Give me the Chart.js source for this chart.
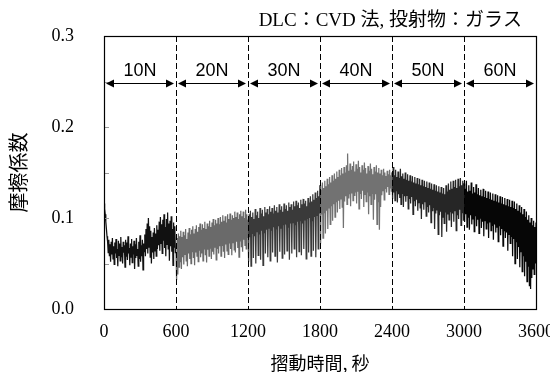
<!DOCTYPE html>
<html>
<head>
<meta charset="utf-8">
<script src="https://cdn.jsdelivr.net/npm/chart.js@4"></script>
<style>
  html, body { margin: 0; padding: 0; background: #fff; }
  #wrap { width: 550px; height: 372px; }
</style>
</head>
<body>
<div id="wrap"><canvas id="chart" width="550" height="372"></canvas></div>
<script>
// load steps (sliding time, s) and their labels
const loadSteps = [0, 600, 1200, 1800, 2400, 3000, 3600];
const loadLabels = ['10N', '20N', '30N', '40N', '50N', '60N'];
const sampleStep = 5; // seconds between samples

// friction coefficient, every 5 s
const mu10N = [0.116, 0.110, 0.104, 0.096, 0.088, 0.080, 0.074,
  0.062, 0.076, 0.058, 0.071, 0.052, 0.074, 0.060, 0.078, 0.055, 0.069,
  0.049, 0.073, 0.061, 0.077, 0.056, 0.066, 0.047, 0.075, 0.059, 0.072,
  0.053, 0.079, 0.057, 0.068, 0.050, 0.074, 0.062, 0.070, 0.046, 0.076,
  0.058, 0.073, 0.054, 0.080, 0.061, 0.067, 0.048, 0.072, 0.057, 0.077,
  0.051, 0.069, 0.060, 0.075, 0.044, 0.071, 0.056, 0.078, 0.059, 0.066,
  0.047, 0.074, 0.055, 0.081, 0.052, 0.070, 0.058, 0.076, 0.043, 0.072,
  0.063, 0.082, 0.058, 0.088, 0.066, 0.094, 0.061, 0.100, 0.068, 0.091,
  0.057, 0.086, 0.050, 0.079, 0.062, 0.084, 0.055, 0.089, 0.064, 0.083,
  0.058, 0.092, 0.066, 0.087,
  0.070, 0.096, 0.064, 0.101, 0.072, 0.093, 0.061, 0.098, 0.075, 0.104,
  0.067, 0.090, 0.058, 0.099, 0.071, 0.106, 0.066, 0.094, 0.053, 0.097,
  0.069, 0.102, 0.063, 0.088, 0.048, 0.095, 0.068, 0.091, 0.062];
const mu20N = [0.062, 0.032, 0.078, 0.038, 0.083, 0.046, 0.080, 0.052, 0.086, 0.044,
  0.079, 0.057, 0.085, 0.049, 0.081, 0.060, 0.088, 0.053, 0.077, 0.047,
  0.084, 0.061, 0.089, 0.055, 0.082, 0.050, 0.087, 0.063, 0.091, 0.056,
  0.083, 0.048, 0.088, 0.062, 0.092, 0.058, 0.085, 0.052, 0.090, 0.064,
  0.094, 0.057, 0.087, 0.061, 0.093, 0.053, 0.089, 0.066, 0.096, 0.059,
  0.088, 0.051, 0.094, 0.065, 0.091, 0.058, 0.097, 0.067, 0.090, 0.055,
  0.095, 0.063, 0.099, 0.060, 0.092, 0.068, 0.098, 0.054, 0.094, 0.066,
  0.100, 0.061, 0.093, 0.069, 0.101, 0.058, 0.096, 0.070, 0.103, 0.063,
  0.097, 0.056, 0.102, 0.071, 0.095, 0.064, 0.104, 0.060, 0.099, 0.072,
  0.105, 0.066, 0.098, 0.059, 0.103, 0.073, 0.100, 0.065, 0.107, 0.062,
  0.101, 0.074, 0.106, 0.067, 0.099, 0.057, 0.104, 0.075, 0.108, 0.068,
  0.102, 0.063, 0.107, 0.076, 0.100, 0.070, 0.109, 0.066, 0.104, 0.078];
const mu30N = [0.098, 0.052, 0.104, 0.079, 0.108, 0.047, 0.101, 0.083, 0.106, 0.056,
  0.099, 0.080, 0.110, 0.050, 0.103, 0.085, 0.107, 0.059, 0.100, 0.082,
  0.111, 0.054, 0.105, 0.086, 0.109, 0.048, 0.102, 0.084, 0.112, 0.061,
  0.106, 0.087, 0.110, 0.057, 0.104, 0.089, 0.113, 0.053, 0.107, 0.086,
  0.111, 0.062, 0.105, 0.090, 0.114, 0.058, 0.108, 0.088, 0.112, 0.051,
  0.106, 0.091, 0.115, 0.063, 0.109, 0.089, 0.113, 0.056, 0.107, 0.092,
  0.116, 0.060, 0.110, 0.093, 0.114, 0.064, 0.108, 0.090, 0.117, 0.054,
  0.112, 0.094, 0.115, 0.061, 0.109, 0.095, 0.118, 0.066, 0.113, 0.092,
  0.119, 0.057, 0.114, 0.096, 0.117, 0.063, 0.111, 0.097, 0.120, 0.059,
  0.115, 0.094, 0.121, 0.066, 0.116, 0.098, 0.119, 0.055, 0.113, 0.099,
  0.122, 0.062, 0.117, 0.100, 0.124, 0.058, 0.118, 0.097, 0.126, 0.064,
  0.120, 0.101, 0.128, 0.057, 0.122, 0.103, 0.130, 0.066, 0.124, 0.105];
const mu40N = [0.136, 0.072, 0.131, 0.104, 0.139, 0.078, 0.133, 0.106, 0.141, 0.083,
  0.135, 0.108, 0.143, 0.088, 0.137, 0.111, 0.145, 0.093, 0.139, 0.113,
  0.147, 0.097, 0.141, 0.115, 0.149, 0.101, 0.143, 0.118, 0.151, 0.106,
  0.145, 0.119, 0.153, 0.110, 0.147, 0.121, 0.155, 0.112, 0.149, 0.089,
  0.156, 0.118, 0.150, 0.124, 0.158, 0.115, 0.171, 0.122, 0.152, 0.126,
  0.160, 0.113, 0.153, 0.127, 0.157, 0.119, 0.162, 0.125, 0.151, 0.128,
  0.159, 0.116, 0.154, 0.129, 0.163, 0.110, 0.156, 0.127, 0.150, 0.121,
  0.158, 0.130, 0.153, 0.112, 0.161, 0.126, 0.155, 0.118, 0.149, 0.128,
  0.157, 0.104, 0.152, 0.124, 0.160, 0.115, 0.154, 0.127, 0.148, 0.098,
  0.156, 0.120, 0.151, 0.126, 0.158, 0.093, 0.150, 0.118, 0.155, 0.087,
  0.149, 0.112, 0.153, 0.125, 0.147, 0.130, 0.154, 0.120, 0.150, 0.132,
  0.146, 0.128, 0.152, 0.134, 0.148, 0.126, 0.153, 0.133, 0.147, 0.129];
const mu50N = [0.150, 0.121, 0.156, 0.128, 0.147, 0.119, 0.153, 0.130, 0.145, 0.117,
  0.151, 0.126, 0.144, 0.122, 0.154, 0.115, 0.146, 0.127, 0.149, 0.112,
  0.143, 0.124, 0.150, 0.118, 0.142, 0.125, 0.148, 0.110, 0.141, 0.121,
  0.147, 0.116, 0.140, 0.123, 0.146, 0.104, 0.139, 0.119, 0.145, 0.113,
  0.138, 0.120, 0.144, 0.108, 0.137, 0.117, 0.143, 0.111, 0.136, 0.099,
  0.142, 0.115, 0.135, 0.109, 0.141, 0.118, 0.134, 0.102, 0.140, 0.112,
  0.133, 0.106, 0.139, 0.114, 0.132, 0.095, 0.138, 0.108, 0.131, 0.111,
  0.137, 0.088, 0.130, 0.105, 0.136, 0.109, 0.129, 0.082, 0.135, 0.103,
  0.128, 0.107, 0.134, 0.079, 0.127, 0.101, 0.133, 0.094, 0.126, 0.106,
  0.136, 0.085, 0.129, 0.104, 0.138, 0.098, 0.131, 0.107, 0.140, 0.090,
  0.132, 0.105, 0.141, 0.096, 0.134, 0.108, 0.142, 0.086, 0.133, 0.103,
  0.143, 0.099, 0.135, 0.109, 0.144, 0.092, 0.136, 0.106, 0.141, 0.097];
const mu60N = [0.138, 0.096, 0.132, 0.104, 0.141, 0.090, 0.129, 0.101, 0.136, 0.087,
  0.130, 0.103, 0.139, 0.093, 0.127, 0.099, 0.134, 0.085, 0.128, 0.102,
  0.137, 0.091, 0.126, 0.098, 0.133, 0.083, 0.125, 0.100, 0.131, 0.089,
  0.124, 0.096, 0.132, 0.080, 0.123, 0.097, 0.130, 0.088, 0.122, 0.094,
  0.129, 0.078, 0.121, 0.095, 0.128, 0.086, 0.120, 0.092, 0.127, 0.076,
  0.119, 0.093, 0.126, 0.084, 0.118, 0.090, 0.125, 0.074, 0.117, 0.091,
  0.124, 0.081, 0.116, 0.088, 0.123, 0.069, 0.115, 0.086, 0.122, 0.078,
  0.114, 0.084, 0.121, 0.064, 0.113, 0.082, 0.120, 0.072, 0.112, 0.079,
  0.119, 0.058, 0.111, 0.077, 0.118, 0.050, 0.110, 0.074, 0.116, 0.055,
  0.108, 0.068, 0.114, 0.046, 0.106, 0.063, 0.112, 0.041, 0.104, 0.058,
  0.110, 0.036, 0.101, 0.052, 0.107, 0.030, 0.098, 0.047, 0.103, 0.025,
  0.095, 0.022, 0.100, 0.034, 0.092, 0.044, 0.097, 0.038, 0.090, 0.050,
  0.095];

const segments = [mu10N, mu20N, mu30N, mu40N, mu50N, mu60N];
const segmentColors = ['#111111', '#6a6a6a', '#3a3a3a', '#727272', '#262626', '#060606'];

const titleText = 'DLC\uFF1ACVD 法, 投射物\uFF1Aガラス';
const serif = '"Liberation Serif", "Times New Roman", serif';
const cjk = '"Noto Sans CJK JP", "Noto Sans CJK SC", sans-serif';

// build one dataset per load step, joined to the next step's first sample
const datasets = segments.map(function(values, i) {
  const points = values.map(function(v, k) {
    return { x: loadSteps[i] + k * sampleStep, y: v };
  });
  if (i + 1 < segments.length) {
    points.push({ x: loadSteps[i + 1], y: segments[i + 1][0] });
  }
  return {
    label: loadLabels[i],
    data: points,
    borderColor: segmentColors[i],
    borderWidth: 1.25,
    pointRadius: 0,
    tension: 0,
    fill: false
  };
});

// dashed dividers, arrows, labels, frame, minor ticks and the caption
const decorations = {
  id: 'decorations',
  afterDatasetsDraw(chart) {
    const ctx = chart.ctx;
    const area = chart.chartArea;
    const xs = chart.scales.x;
    const ys = chart.scales.y;
    ctx.save();

    // minor ticks on the left axis, pointing inward
    ctx.strokeStyle = '#999';
    ctx.lineWidth = 1;
    [0.05, 0.1, 0.15, 0.2, 0.25].forEach(function(v) {
      const y = Math.round(ys.getPixelForValue(v)) + 0.5;
      ctx.beginPath();
      ctx.moveTo(area.left, y);
      ctx.lineTo(area.left + 5, y);
      ctx.stroke();
    });

    // dashed dividers between loads
    ctx.strokeStyle = '#000';
    ctx.setLineDash([6, 3]);
    loadSteps.slice(1, -1).forEach(function(t) {
      const x = Math.round(xs.getPixelForValue(t)) + 0.5;
      ctx.beginPath();
      ctx.moveTo(x, area.top);
      ctx.lineTo(x, area.bottom);
      ctx.stroke();
    });
    ctx.setLineDash([]);

    // double arrows and load labels
    const ay = Math.round(ys.getPixelForValue(0.248)) + 0.5;
    const ly = ys.getPixelForValue(0.261);
    ctx.fillStyle = '#000';
    ctx.font = '18px "Liberation Sans", Arial, sans-serif';
    ctx.textAlign = 'center';
    ctx.textBaseline = 'middle';
    for (let i = 0; i < loadLabels.length; i++) {
      const x0 = xs.getPixelForValue(loadSteps[i]) + 2;
      const x1 = xs.getPixelForValue(loadSteps[i + 1]) - 2;
      ctx.beginPath();
      ctx.moveTo(x0 + 4, ay);
      ctx.lineTo(x1 - 4, ay);
      ctx.stroke();
      ctx.beginPath();
      ctx.moveTo(x0, ay);
      ctx.lineTo(x0 + 8, ay - 4);
      ctx.lineTo(x0 + 8, ay + 4);
      ctx.closePath();
      ctx.fill();
      ctx.beginPath();
      ctx.moveTo(x1, ay);
      ctx.lineTo(x1 - 8, ay - 4);
      ctx.lineTo(x1 - 8, ay + 4);
      ctx.closePath();
      ctx.fill();
      ctx.fillText(loadLabels[i], (x0 + x1) / 2, ly);
    }

    // plot frame
    ctx.lineWidth = 1.2;
    ctx.strokeRect(area.left + 0.5, area.top + 0.5, area.right - area.left, area.bottom - area.top);

    // caption above the plot
    ctx.font = '19px "Liberation Serif", ' + cjk;
    ctx.textAlign = 'right';
    ctx.textBaseline = 'middle';
    ctx.fillText(titleText, 522, 21);

    ctx.restore();
  }
};

const ctx = document.getElementById('chart').getContext('2d');
const chart = new Chart(ctx, {
  type: 'line',
  data: { datasets: datasets },
  options: {
    responsive: false,
    animation: false,
    events: [],
    layout: { padding: { top: 36, right: 14, bottom: 0, left: 0 } },
    plugins: { legend: { display: false }, tooltip: { enabled: false }, title: { display: false } },
    scales: {
      x: {
        type: 'linear',
        min: 0,
        max: 3600,
        grid: { display: false, drawTicks: false },
        border: { display: false },
        ticks: {
          stepSize: 600,
          padding: 12,
          color: '#000',
          maxRotation: 0,
          font: { family: serif, size: 18 },
          callback: function(v) { return String(v); }
        },
        title: {
          display: true,
          text: '摺動時間, 秒',
          color: '#000',
          padding: { top: 1, bottom: 0 },
          font: { family: cjk, size: 18, lineHeight: 1 }
        },
        afterFit(scale) {
          scale.height = 63;
          scale.paddingLeft = 0;
          scale.paddingRight = 0;
        }
      },
      y: {
        min: 0,
        max: 0.3,
        grid: { display: false, drawTicks: false },
        border: { display: false },
        ticks: {
          stepSize: 0.1,
          padding: 30,
          color: '#000',
          font: { family: serif, size: 18 },
          callback: function(v) { return v.toFixed(1); }
        },
        title: {
          display: true,
          text: '摩擦係数',
          color: '#000',
          padding: { top: 8, bottom: 0 },
          font: { family: cjk, size: 20, lineHeight: 1 }
        },
        afterFit(scale) {
          scale.width = 104;
          scale.paddingTop = 0;
          scale.paddingBottom = 0;
        }
      }
    }
  },
  plugins: [decorations]
});
</script>
</body>
</html>
